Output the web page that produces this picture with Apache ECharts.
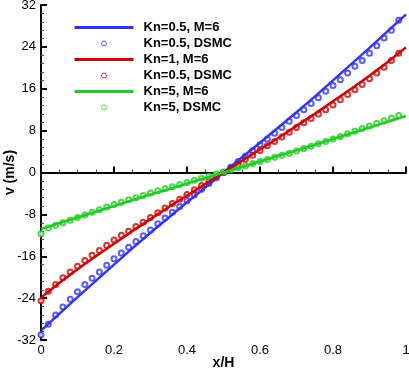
<!DOCTYPE html>
<html>
<head>
<meta charset="UTF-8">
<title>Couette velocity profile</title>
<script src="https://cdn.jsdelivr.net/npm/echarts@6/dist/echarts.min.js"></script>
</head>
<body style="margin:0">
<div id="main" style="width:409px;height:369px;"></div>
<script type="text/javascript">
// model curves (M=6), sampled every 0.05
var xLine = [0, 0.05, 0.1, 0.15, 0.2, 0.25, 0.3, 0.35, 0.4, 0.45, 0.5,
             0.55, 0.6, 0.65, 0.7, 0.75, 0.8, 0.85, 0.9, 0.95, 1];
var kn05Line = [-30.2, -27.0, -23.8, -20.7, -17.6, -14.5, -11.5, -8.6, -5.7, -2.85, 0,
                2.85, 5.7, 8.6, 11.5, 14.5, 17.6, 20.7, 23.8, 27.0, 30.2];
var kn1Line = [-23.9, -21.1, -18.5, -16.0, -13.6, -11.2, -8.9, -6.6, -4.4, -2.2, 0,
               2.2, 4.4, 6.6, 8.9, 11.2, 13.6, 16.0, 18.5, 21.1, 23.9];
var kn5Line = [-10.8, -9.7, -8.6, -7.5, -6.4, -5.3, -4.2, -3.2, -2.1, -1.05, 0,
               1.05, 2.1, 3.2, 4.2, 5.3, 6.4, 7.5, 8.6, 9.7, 10.8];

// DSMC points, every 0.02
var xDsmc = [0, 0.02, 0.04, 0.06, 0.08, 0.1, 0.12, 0.14, 0.16, 0.18, 0.2, 0.22, 0.24,
             0.26, 0.28, 0.3, 0.32, 0.34, 0.36, 0.38, 0.4, 0.42, 0.44, 0.46, 0.48,
             0.5, 0.52, 0.54, 0.56, 0.58, 0.6, 0.62, 0.64, 0.66, 0.68, 0.7, 0.72, 0.74,
             0.76, 0.78, 0.8, 0.82, 0.84, 0.86, 0.88, 0.9, 0.92, 0.94, 0.96, 0.98];
var kn05Dsmc = [-31.0, -29.0, -27.2, -25.7, -24.2, -22.8, -21.4, -20.2, -19.0, -17.7, -16.5, -15.4, -14.3,
                -13.2, -12.1, -11.0, -9.8, -8.7, -7.6, -6.5, -5.4, -4.3, -3.2, -2.1, -1.0,
                0.0, 1.0, 2.1, 3.1, 4.2, 5.3, 6.4, 7.5, 8.6, 9.8, 10.9, 12.0, 13.2,
                14.3, 15.5, 16.6, 17.7, 19.0, 20.3, 21.4, 22.8, 24.2, 25.7, 27.2, 29.1];
var kn1Dsmc = [-24.5, -22.7, -21.4, -20.1, -19.0, -17.9, -16.8, -15.8, -14.9, -13.9, -12.9, -12.0, -11.2,
               -10.3, -9.5, -8.6, -7.7, -6.8, -5.9, -5.1, -4.2, -3.3, -2.5, -1.6, -0.8,
               0.0, 0.8, 1.6, 2.5, 3.3, 4.2, 5.1, 5.9, 6.8, 7.7, 8.6, 9.5, 10.3,
               11.2, 12.0, 12.9, 13.9, 14.9, 15.8, 16.8, 17.9, 19.0, 20.1, 21.4, 22.8];
var kn5Dsmc = [-11.7, -10.6, -10.1, -9.6, -9.1, -8.6, -8.1, -7.6, -7.1, -6.6, -6.1, -5.7, -5.2,
               -4.8, -4.4, -3.9, -3.5, -3.1, -2.7, -2.3, -1.9, -1.5, -1.1, -0.7, -0.3,
               0.1, 0.5, 0.9, 1.3, 1.7, 2.1, 2.5, 2.9, 3.3, 3.7, 4.1, 4.6, 5.0,
               5.5, 5.9, 6.4, 6.9, 7.4, 7.9, 8.4, 8.9, 9.4, 9.9, 10.4, 10.9];

var seriesNames = ['Kn=0.5, M=6', 'Kn=0.5, DSMC', 'Kn=1, M=6', 'Kn=0.5, DSMC ', 'Kn=5, M=6', 'Kn=5, DSMC'];

function pairs(xs, ys) {
  return xs.map(function (x, i) { return [x, ys[i]]; });
}

var blue = '#3333ff', red = '#d40000', green = '#22cc22';
var colors = [blue, blue, red, red, green, green];
var font = 'Liberation Sans, Arial, Helvetica, sans-serif';

function lineSeries(name, ys, color) {
  return {
    name: name, type: 'line', data: pairs(xLine, ys), symbol: 'none',
    lineStyle: { color: color, width: 2.5 }, itemStyle: { color: color }, z: 3
  };
}
function dotSeries(name, ys, color) {
  return {
    name: name, type: 'scatter', data: pairs(xDsmc, ys), symbol: 'emptyCircle', symbolSize: 5,
    itemStyle: { color: color, borderColor: color, borderWidth: 1 }, z: 2
  };
}

// legend entries: hide the marker dot on the line entries, hollow circle for DSMC
var legendData = seriesNames.map(function (n, i) {
  if (i % 2 === 0) {
    return { name: n, itemStyle: { color: 'rgba(0,0,0,0)', borderWidth: 0 }, lineStyle: { width: 3 } };
  }
  return { name: n, icon: 'circle', itemStyle: { color: '#fff', borderColor: colors[i], borderWidth: 1 } };
});

var myChart = echarts.init(document.getElementById('main'));
var option = {
  animation: false,
  backgroundColor: '#fff',
  textStyle: { fontFamily: font },
  grid: { left: 41, right: 3, top: 5, bottom: 29, containLabel: false, outerBoundsMode: 'none' },
  legend: {
    orient: 'vertical', left: 73, top: 21, padding: 0, itemWidth: 59, itemHeight: 5, itemGap: 3,
    data: legendData,
    textStyle: { fontFamily: font, fontSize: 13, fontWeight: 'bold', color: '#000', padding: [0, 0, 0, 5] }
  },
  xAxis: {
    type: 'value', min: 0, max: 1, interval: 0.2,
    name: 'x/H', nameLocation: 'middle', nameGap: 16, nameMoveOverlap: false,
    nameTextStyle: { fontSize: 14, fontWeight: 'bold', color: '#000', fontFamily: font },
    axisLine: { lineStyle: { color: '#000', width: 2 } },
    axisTick: { inside: true, length: 6, lineStyle: { width: 2, color: '#000' } },
    minorTick: { show: true, splitNumber: 4, length: 3, lineStyle: { color: '#555', width: 1 } },
    axisLabel: { fontSize: 13, color: '#000', margin: 4, fontFamily: font },
    splitLine: { show: false }
  },
  yAxis: {
    type: 'value', min: -32, max: 32, interval: 8,
    name: 'v (m/s)', nameLocation: 'middle', nameGap: 24, nameRotate: 90, nameMoveOverlap: false,
    nameTextStyle: { fontSize: 14, fontWeight: 'bold', color: '#000', fontFamily: font },
    axisLine: { lineStyle: { color: '#000', width: 2 } },
    axisTick: { inside: true, length: 6, lineStyle: { width: 2, color: '#000' } },
    minorTick: { show: true, splitNumber: 5, length: 3, lineStyle: { color: '#555', width: 1 } },
    axisLabel: { fontSize: 13, color: '#000', margin: 5, fontFamily: font },
    splitLine: { show: false }
  },
  series: [
    lineSeries(seriesNames[0], kn05Line, blue),
    dotSeries(seriesNames[1], kn05Dsmc, blue),
    lineSeries(seriesNames[2], kn1Line, red),
    dotSeries(seriesNames[3], kn1Dsmc, red),
    lineSeries(seriesNames[4], kn5Line, green),
    dotSeries(seriesNames[5], kn5Dsmc, green)
  ]
};
myChart.setOption(option);
</script>
</body>
</html>
